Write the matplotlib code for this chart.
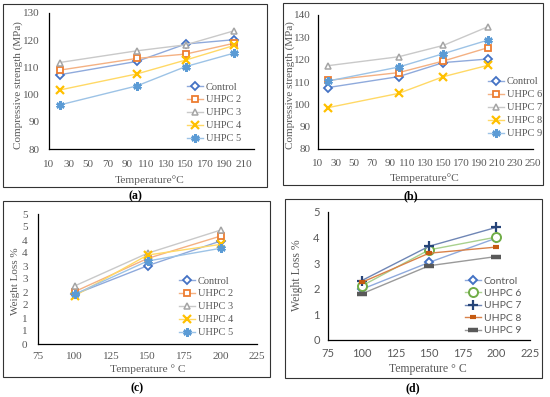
import numpy as np
import matplotlib
matplotlib.use('Agg')
import matplotlib.pyplot as plt
from matplotlib.patches import Rectangle
from matplotlib.ticker import FixedLocator, FixedFormatter

# ---- data ----
temp_cs = [21, 100, 150, 200]
cs_a = {
    'Control': [107.3, 112.2, 118.6, 120.2],
    'UHPC 2':  [109.0, 113.3, 114.9, 118.9],
    'UHPC 3':  [111.8, 116.1, 118.3, 123.5],
    'UHPC 4':  [101.7, 107.6, 112.7, 118.1],
    'UHPC 5':  [96.2, 103.2, 110.3, 115.3],
}
cs_b = {
    'Control': [107.5, 112.4, 118.7, 120.3],
    'UHPC 6':  [110.7, 114.2, 119.4, 125.4],
    'UHPC 7':  [117.3, 121.3, 126.4, 134.8],
    'UHPC 8':  [98.5, 104.9, 112.4, 117.5],
    'UHPC 9':  [110.4, 116.7, 122.7, 128.8],
}
temp_wl = [100, 150, 200]
wl_c = {
    'Control': [1.91, 3.01, 3.96],
    'UHPC 2':  [2.01, 3.29, 4.15],
    'UHPC 3':  [2.23, 3.49, 4.38],
    'UHPC 4':  [1.85, 3.42, 3.83],
    'UHPC 5':  [1.91, 3.19, 3.68],
}
wl_d = {
    'Control': [1.98, 3.03, 3.98],
    'UHPC 6':  [2.11, 3.52, 4.02],
    'UHPC 7':  [2.32, 3.66, 4.40],
    'UHPC 8':  [2.25, 3.39, 3.63],
    'UHPC 9':  [1.80, 2.90, 3.26],
}
c_yticks = [0, 0.5, 1, 1.5, 2, 2.5, 3, 3.5, 4, 4.5, 5]
c_ylabels = ['0', '1', '1', '2', '2', '3', '3', '4', '4', '5', '5']

# (marker, marker colour, line colour, filled)
sty_abc = [
    ('D', '#4472C4', '#8FAADC', False),
    ('s', '#ED7D31', '#F4B183', False),
    ('^', '#A5A5A5', '#C9C9C9', False),
    ('x', '#FFC000', '#FFD966', True),
    ((6, 2, 0), '#5B9BD5', '#9DC3E6', True),
]
sty_d = [
    ('D', '#4472C4', '#8FAADC', False),
    ('o', '#70AD47', '#A9D18E', False),
    ('+', '#264478', '#6F86B5', True),
    ('_', '#C55A11', '#D9824A', True),
    ('_', '#595959', '#9A9A9A', True),
]
msize_abc = [4.5, 5, 5, 6, 6]
mew_abc = [1.3, 1.3, 1.1, 1.6, 1.8]
msize_d = [4.5, 6.5, 7, 5, 7]
mew_d = [1.4, 1.4, 1.6, 3, 3.2]

W, H = 550, 397
fig = plt.figure(figsize=(W/100, H/100), dpi=100)

def fbox(x0, y0, x1, y1):
    return [x0/W, 1 - y1/H, (x1 - x0)/W, (y1 - y0)/H]

serif = 'Liberation Serif'
sans = 'Lato'
grey = '#595959'

# outer frames and captions
for (x0, y0, x1, y1) in [(3, 4, 267, 187), (283, 3, 543, 185), (3, 201, 270, 377), (285, 199, 542, 378)]:
    fig.patches.append(Rectangle((x0/W, 1 - y1/H), (x1 - x0)/W, (y1 - y0)/H, transform=fig.transFigure,
                                 fill=False, edgecolor='#333333', linewidth=0.8))
for lab, x, y in [('(a)', 135, 196), ('(b)', 411, 196), ('(c)', 137, 388), ('(d)', 413, 388)]:
    fig.text(x/W, 1 - y/H, lab, ha='center', va='center', family=serif, fontweight='bold', fontsize=8.5)


def panel(box, xs, data, styles, sizes, mews, xlim, xticks, ylim, yticks, ylab, xlab, ylab_xy, xlab_xy,
          pads, leg_xy, tickfont, legfont, labsize, legsize, legspace, ylabels=None):
    ax = fig.add_axes(fbox(*box))
    for (name, vals), (mk, mc, lc, filled), ms, mw in zip(data.items(), styles, sizes, mews):
        ax.plot(xs, vals, color=lc, linewidth=1.0, marker=mk, markersize=ms,
                markeredgecolor=mc, markerfacecolor=mc if filled else 'white',
                markeredgewidth=mw, label=name)
    ax.set_xlim(*xlim)
    ax.set_ylim(*ylim)
    ax.set_xticks(xticks)
    ax.yaxis.set_major_locator(FixedLocator(yticks))
    if ylabels is None:
        ylabels = [str(v) for v in yticks]
    ax.yaxis.set_major_formatter(FixedFormatter(ylabels))
    for s in ['top', 'right']:
        ax.spines[s].set_visible(False)
    for s in ['left', 'bottom']:
        ax.spines[s].set_color('black')
        ax.spines[s].set_linewidth(0.9)
    ax.tick_params(length=0, labelsize=8, labelcolor=grey, labelfontfamily=tickfont)
    ax.tick_params(axis='x', pad=pads[0])
    ax.tick_params(axis='y', pad=pads[1])
    ax.set_ylabel(ylab, family=serif, fontsize=labsize[0], color=grey, va='center', ha='center')
    ax.set_xlabel(xlab, family=serif, fontsize=labsize[1], color=grey, va='center', ha='center')
    ax.yaxis.set_label_coords(ylab_xy[0]/W, 1 - ylab_xy[1]/H, transform=fig.transFigure)
    ax.xaxis.set_label_coords(xlab_xy[0]/W, 1 - xlab_xy[1]/H, transform=fig.transFigure)
    ax.patch.set_alpha(0)
    leg = ax.legend(loc='upper left', bbox_to_anchor=(leg_xy[0]/W, 1 - leg_xy[1]/H),
                    bbox_transform=fig.transFigure, frameon=False, borderpad=0,
                    handlelength=1.5, handletextpad=0.3, labelspacing=legspace,
                    prop={'family': legfont, 'size': legsize})
    for t in leg.get_texts():
        t.set_color(grey)
    return ax

panel((49, 13, 254, 149), temp_cs, cs_a, sty_abc, msize_abc, mew_abc,
      (10, 220), list(range(10, 211, 20)), (80, 130), list(range(80, 131, 10)),
      'Compressive strength (MPa)', 'Temperature°C', (18, 85), (150, 180), (8, 7),
      (182, 77), serif, serif, (8, 8.2), 7.5, 0.35)

panel((318, 15, 533, 149), temp_cs, cs_b, sty_abc, msize_abc, mew_abc,
      (10, 250), list(range(10, 251, 20)), (80, 140), list(range(80, 141, 10)),
      'Compressive strength (MPa)', 'Temperature°C', (290, 85), (425, 178), (7, 5.5),
      (483, 72), serif, serif, (8, 8.2), 7.5, 0.35)

panel((38, 214, 257, 344), temp_wl, wl_c, sty_abc, msize_abc, mew_abc,
      (75, 225), list(range(75, 226, 25)), (0, 5), c_yticks,
      'Weight Loss %', 'Temperature ° C', (15, 281), (148, 369), (6, 7.5),
      (174, 271), serif, serif, (8, 8.2), 7.5, 0.35, ylabels=c_ylabels)

panel((328, 212, 530, 340), temp_wl, wl_d, sty_d, msize_d, mew_d,
      (75, 225), list(range(75, 226, 25)), (0, 5), list(range(0, 6)),
      'Weight Loss %', 'Temperature ° C', (297, 275), (428, 369), (6, 6),
      (460, 271), sans, sans, (8.5, 8.5), 7.5, 0.3)

fig.savefig('out.png', dpi=100)
